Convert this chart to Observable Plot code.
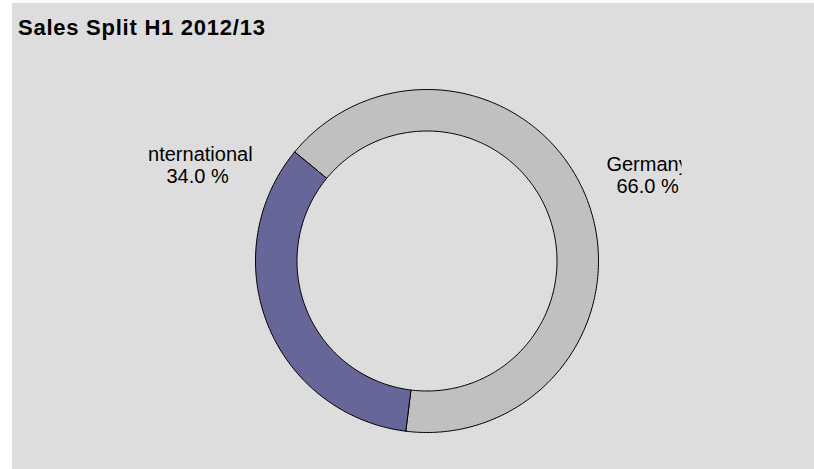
<!DOCTYPE html>
<html><head><meta charset="utf-8">
<script src="https://cdn.jsdelivr.net/npm/d3@7"></script>
<script src="https://cdn.jsdelivr.net/npm/@observablehq/plot@0.6"></script>
<style>
html,body{margin:0;padding:0;background:#fff;}
#chart{position:absolute;left:12px;top:3px;width:802px;height:466px;background:#dddddd;overflow:hidden;font-family:"Liberation Sans",Arial,sans-serif;}
#title{padding:13px 0 0 6px;height:24px;line-height:24px;font-size:22px;letter-spacing:0.75px;font-weight:bold;color:#000;white-space:nowrap;}
#plot svg{display:block;}
</style></head><body>
<div id="chart"><div id="title">Sales Split H1 2012/13</div><div id="plot"></div></div>
<script>
// ---- data ----
const categories = ["Germany", "International"];
const shares = [66.0, 34.0];
const colors = ["#c0c0c0", "#666699"];

// ---- layout (not data) ----
const startAngle = -50.5;   // degrees, clockwise from 12 o'clock
const innerRatio = 0.758;
const labelPos = [[1.286, 0.395], [-1.338, 0.454]];   // data units (last baseline)
const labelClip = [[-9, 1.484], [-1.63, 9]];           // visible x-range per label

// build ring polygons from the shares
const total = d3.sum(shares);
const verts = [];
let a0 = startAngle;
categories.forEach((name, i) => {
  const sweep = shares[i] / total * 360;
  const a1 = a0 + sweep;
  const n = Math.max(2, Math.ceil(sweep));
  const pts = [];
  for (let k = 0; k <= n; k++) {
    const a = (a0 + sweep * k / n) * Math.PI / 180;
    pts.push({name, x: Math.sin(a), y: Math.cos(a)});
  }
  for (let k = n; k >= 0; k--) {
    const a = (a0 + sweep * k / n) * Math.PI / 180;
    pts.push({name, x: innerRatio * Math.sin(a), y: innerRatio * Math.cos(a)});
  }
  pts.push({...pts[0]});
  verts.push(...pts);
  a0 = a1;
});

const labels = categories.map((name, i) => ({
  name, x: labelPos[i][0], y: labelPos[i][1],
  text: `${name}\n${shares[i].toFixed(1)} %`
}));

const plot = Plot.plot({
  width: 802, height: 429,
  marginLeft: 243, marginRight: 216, marginTop: 49, marginBottom: 37,
  x: {domain: [-1, 1], axis: null},
  y: {domain: [-1, 1], axis: null},
  color: {domain: categories, range: colors},
  style: {background: "transparent", fontFamily: "'Liberation Sans', Arial, sans-serif", overflow: "visible"},
  marks: [
    Plot.line(verts, {x: "x", y: "y", z: "name", fill: "name", stroke: "#000", strokeWidth: 1, curve: "linear"}),
    Plot.text(labels, {x: "x", y: "y", text: "text", lineAnchor: "bottom", lineHeight: 1.1, fontSize: 20, fill: "#000", textAnchor: "middle"})
  ]
});

// clip the labels like the original text boxes (clip rect in the text's local space)
const sx = plot.scale("x");
const svgSel = d3.select(plot);
const defs = svgSel.append("defs");
svgSel.selectAll('g[aria-label="text"] text').each(function(d, j) {
  const i = typeof d === "number" ? d : j;
  const cx = sx.apply(labelPos[i][0]);
  const xa = sx.apply(labelClip[i][0]) - cx, xb = sx.apply(labelClip[i][1]) - cx;
  const id = "lblclip" + i;
  defs.append("clipPath").attr("id", id).attr("clipPathUnits", "userSpaceOnUse")
    .append("rect").attr("x", Math.min(xa, xb)).attr("y", -500)
    .attr("width", Math.abs(xb - xa)).attr("height", 1000);
  d3.select(this).attr("clip-path", `url(#${id})`);
});

document.getElementById("plot").appendChild(plot);
</script>
</body></html>
